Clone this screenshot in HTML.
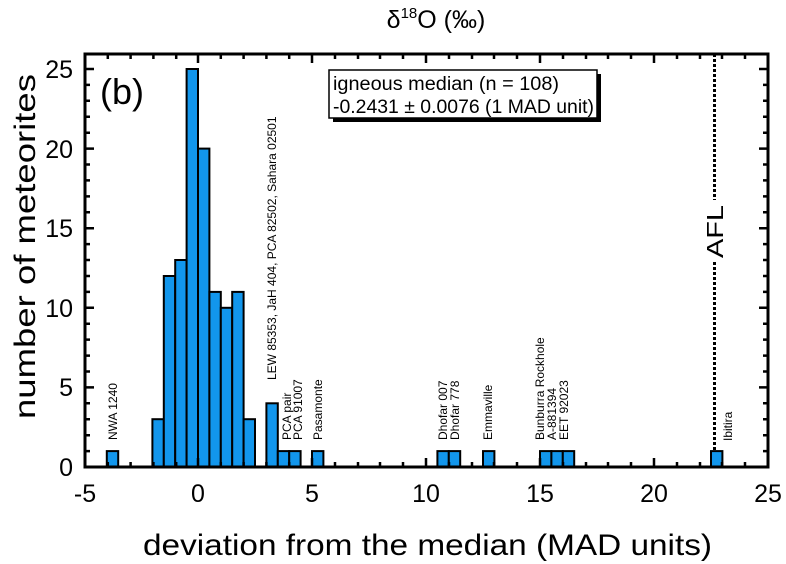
<!DOCTYPE html>
<html><head><meta charset="utf-8"><style>html,body{margin:0;padding:0;background:#fff}svg{display:block}</style></head>
<body>
<svg width="786" height="564" viewBox="0 0 786 564" xmlns="http://www.w3.org/2000/svg" font-family="Liberation Sans, Arial, sans-serif">
<rect width="786" height="564" fill="#fff"/>
<text x="436" y="28" font-size="25" text-anchor="middle">δ<tspan font-size="15" dy="-10">18</tspan><tspan dy="10">O (‰)</tspan></text>
<g fill="#1296ec" stroke="#000" stroke-width="2">
<rect x="106.8" y="451.1" width="11.4" height="15.9"/>
<rect x="152.4" y="419.2" width="11.4" height="47.8"/>
<rect x="163.8" y="276" width="11.4" height="191"/>
<rect x="175.2" y="260" width="11.4" height="207"/>
<rect x="186.6" y="69" width="11.4" height="398"/>
<rect x="198" y="148.6" width="11.4" height="318.4"/>
<rect x="209.4" y="291.9" width="11.4" height="175.1"/>
<rect x="220.8" y="307.8" width="11.4" height="159.2"/>
<rect x="232.2" y="291.9" width="11.4" height="175.1"/>
<rect x="243.6" y="419.2" width="11.4" height="47.8"/>
<rect x="266.4" y="403.3" width="11.4" height="63.7"/>
<rect x="277.8" y="451.1" width="11.4" height="15.9"/>
<rect x="289.2" y="451.1" width="11.4" height="15.9"/>
<rect x="312" y="451.1" width="11.4" height="15.9"/>
<rect x="437.4" y="451.1" width="11.4" height="15.9"/>
<rect x="448.8" y="451.1" width="11.4" height="15.9"/>
<rect x="483" y="451.1" width="11.4" height="15.9"/>
<rect x="540" y="451.1" width="11.4" height="15.9"/>
<rect x="551.4" y="451.1" width="11.4" height="15.9"/>
<rect x="562.8" y="451.1" width="11.4" height="15.9"/>
<rect x="711" y="451.1" width="11.4" height="15.9"/>
</g>
<line x1="714.5" y1="54" x2="714.5" y2="200" stroke="#000" stroke-width="3" stroke-dasharray="3,2"/>
<line x1="714.5" y1="262" x2="714.5" y2="450" stroke="#000" stroke-width="3" stroke-dasharray="3,2"/>
<text transform="translate(723,258) rotate(-90)" font-size="23" textLength="53" lengthAdjust="spacingAndGlyphs">AFL</text>
<g font-size="12">
<text transform="translate(117,440) rotate(-90)">NWA 1240</text>
<text transform="translate(276,380) rotate(-90)">LEW 85353, JaH 404, PCA 82502, Sahara 02501</text>
<text transform="translate(291,440) rotate(-90)">PCA pair</text>
<text transform="translate(302,440) rotate(-90)">PCA 91007</text>
<text transform="translate(322,440) rotate(-90)">Pasamonte</text>
<text transform="translate(447,440) rotate(-90)">Dhofar 007</text>
<text transform="translate(459,440) rotate(-90)">Dhofar 778</text>
<text transform="translate(492,440) rotate(-90)">Emmaville</text>
<text transform="translate(544,440) rotate(-90)">Bunburra Rockhole</text>
<text transform="translate(556,440) rotate(-90)">A-881394</text>
<text transform="translate(568,440) rotate(-90)">EET 92023</text>
<text transform="translate(732,441) rotate(-90)">Ibitira</text>
</g>
<rect x="333" y="74" width="268" height="48" fill="#000"/>
<rect x="329" y="70" width="268" height="48" fill="#fff" stroke="#000" stroke-width="1.5"/>
<text x="333" y="90" font-size="19" textLength="226" lengthAdjust="spacingAndGlyphs">igneous median (n = 108)</text>
<text x="333" y="113" font-size="19" textLength="261" lengthAdjust="spacingAndGlyphs">-0.2431 ± 0.0076 (1 MAD unit)</text>
<text x="100" y="104" font-size="36">(b)</text>
<rect x="85" y="54" width="683" height="413" fill="none" stroke="#000" stroke-width="3"/>
<g stroke="#000" stroke-width="2.5">
<path d="M85,467v-9M198,467v-9M312,467v-9M426,467v-9M540,467v-9M654,467v-9M768,467v-9 M85,54v9M198,54v9M312,54v9M426,54v9M540,54v9M654,54v9M768,54v9"/>
<path d="M107.8,467v-5M130.6,467v-5M153.4,467v-5M176.2,467v-5M220.8,467v-5M243.6,467v-5M266.4,467v-5M289.2,467v-5M335,467v-5M358,467v-5M380,467v-5M403,467v-5M449,467v-5M472,467v-5M494,467v-5M517,467v-5M563,467v-5M586,467v-5M608,467v-5M631,467v-5M677,467v-5M700,467v-5M722,467v-5M745,467v-5
M107.8,54v5M130.6,54v5M153.4,54v5M176.2,54v5M220.8,54v5M243.6,54v5M266.4,54v5M289.2,54v5M335,54v5M358,54v5M380,54v5M403,54v5M449,54v5M472,54v5M494,54v5M517,54v5M563,54v5M586,54v5M608,54v5M631,54v5M677,54v5M700,54v5M722,54v5M745,54v5"/>
<path d="M85,467h9M85,387.4h9M85,307.8h9M85,228.2h9M85,148.6h9M85,69h9 M768,387.4h-9M768,307.8h-9M768,228.2h-9M768,148.6h-9M768,69h-9"/>
<path d="M85,451.1h5M85,435.2h5M85,419.2h5M85,403.3h5M85,371.5h5M85,355.6h5M85,339.6h5M85,323.7h5M85,291.9h5M85,276h5M85,260h5M85,244.1h5M85,212.3h5M85,196.4h5M85,180.4h5M85,164.5h5M85,132.7h5M85,116.8h5M85,100.8h5M85,84.9h5
M768,451.1h-5M768,435.2h-5M768,419.2h-5M768,403.3h-5M768,371.5h-5M768,355.6h-5M768,339.6h-5M768,323.7h-5M768,291.9h-5M768,276h-5M768,260h-5M768,244.1h-5M768,212.3h-5M768,196.4h-5M768,180.4h-5M768,164.5h-5M768,132.7h-5M768,116.8h-5M768,100.8h-5M768,84.9h-5"/>
</g>
<g font-size="25" text-anchor="middle">
<text x="85" y="502">-5</text><text x="198" y="502">0</text><text x="312" y="502">5</text><text x="426" y="502">10</text><text x="540" y="502">15</text><text x="654" y="502">20</text><text x="768" y="502">25</text>
</g>
<g font-size="25" text-anchor="end">
<text x="73" y="476">0</text><text x="73" y="396">5</text><text x="73" y="317">10</text><text x="73" y="237">15</text><text x="73" y="158">20</text><text x="73" y="78">25</text>
</g>
<text x="143" y="555" font-size="30" textLength="569" lengthAdjust="spacingAndGlyphs">deviation from the median (MAD units)</text>
<text transform="translate(35,419) rotate(-90)" font-size="30" textLength="345" lengthAdjust="spacingAndGlyphs">number of meteorites</text>
</svg>
</body></html>
